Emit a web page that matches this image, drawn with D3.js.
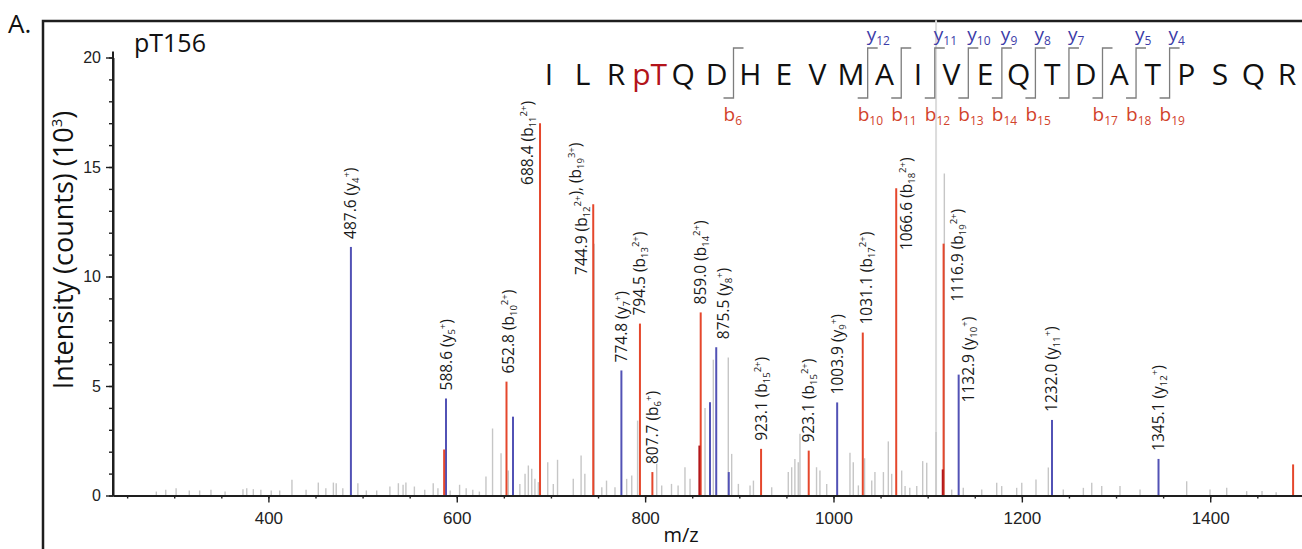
<!DOCTYPE html>
<html>
<head>
<meta charset="utf-8">
<script src="https://cdn.jsdelivr.net/npm/d3@7"></script>
<style>
  body { margin: 0; background: #fff; }
  svg { display: block; font-family: 'Open Sans', 'Noto Sans', sans-serif; }
</style>
</head>
<body>
<svg id="chart" width="1302" height="549"></svg>
<script>
// peptide sequence and fragment sites (cut = number of residues before the bracket)
const residues = ['I','L','R','pT','Q','D','H','E','V','M','A','I','V','E','Q','T','D','A','T','P','S','Q','R'];
const cutSites = [6, 10, 11, 12, 13, 14, 15, 16, 17, 18, 19];
const bCuts = [6, 10, 11, 12, 13, 14, 15, 17, 18, 19];
const yCuts = [10, 12, 13, 14, 15, 16, 18, 19];
const yNumbers = [12, 11, 10, 9, 8, 7, 5, 4];

// labelled b ions (red)
const bPeakMz = [652.8, 688.4, 744.9, 794.5, 807.7, 859.0, 923.1, 973.7, 1031.1, 1066.6, 1116.9];
const bPeakIntensity = [5.2, 17.0, 13.3, 7.85, 1.07, 8.36, 2.13, 2.05, 7.44, 14.03, 11.5];
const bPeakLabels = ['652.8|b,10,2+', '688.4|b,11,2+', '744.9|b,12,2+|b,19,3+', '794.5|b,13,2+',
  '807.7|b,6,+', '859.0|b,14,2+', '923.1|b,15,2+', '923.1|b,15,2+', '1031.1|b,17,2+',
  '1066.6|b,18,2+', '1116.9|b,19,2+'];

// labelled y ions (blue)
const yPeakMz = [487.6, 588.6, 774.8, 875.5, 1003.9, 1132.9, 1232.0, 1345.1];
const yPeakIntensity = [11.35, 4.43, 5.71, 6.77, 4.25, 5.52, 3.45, 1.67];
const yPeakLabels = ['487.6|y,4,+', '588.6|y,5,+', '774.8|y,7,+', '875.5|y,8,+', '1003.9|y,9,+',
  '1132.9|y,10,+', '1232.0|y,11,+', '1345.1|y,12,+'];

// unlabelled coloured lines
const otherBlueMz = [659.7, 868.9, 888.8];
const otherBlueIntensity = [3.6, 4.26, 1.07];
const otherRedMz = [586.6, 1488];
const otherRedIntensity = [2.1, 1.42];
const overlapMz = [857.6, 1116.0];
const overlapIntensity = [2.28, 1.19];
const precursorMz = [1108.9];
const precursorIntensity = [21.7];

// unassigned peaks (grey)
const noiseMz = [281, 291, 302, 316, 327, 339, 354, 373, 377, 384, 392, 403, 412, 425, 440, 453, 461, 469, 472,
  479, 495, 504, 515, 529, 538, 543, 546, 555, 566, 575, 580, 593, 603, 610, 617, 624, 631, 638, 647,
  654.7, 667, 672.5, 676, 679.6, 683, 686.6, 696.6, 702.5, 707, 723.7, 732, 736, 745.8, 754, 759, 768,
  780.4, 785.8, 792, 812.3, 817.6, 828, 835, 842.3, 847.7, 863.6, 872.4, 888.3, 891.9, 899, 911.4, 915,
  934.4, 952, 955.6, 959, 962.6, 964.4, 982, 985.6, 992.8, 1017.5, 1021, 1026.4, 1033, 1040.6, 1044,
  1053, 1058.2, 1061.8, 1072.4, 1076, 1081, 1088.4, 1094.7, 1099, 1108.9, 1117.7, 1125.5, 1137.8,
  1157.4, 1173.3, 1178.6, 1194.5, 1199.9, 1215, 1228.1, 1244, 1265.3, 1274.2, 1284.8, 1304.2, 1325.5,
  1375, 1399.8, 1417.5, 1438.7, 1455, 1470];
const noiseIntensity = [0.18, 0.26, 0.33, 0.23, 0.23, 0.26, 0.18, 0.29, 0.33, 0.29, 0.26, 0.23, 0.23, 0.72, 0.26,
  0.59, 0.33, 0.59, 0.56, 0.33, 0.56, 0.23, 0.23, 0.41, 0.56, 0.49, 0.59, 0.41, 0.26, 0.56, 0.33, 0.23,
  0.49, 0.33, 0.26, 0.18, 0.87, 3.06, 1.93,
  1.14, 0.53, 0.99, 1.37, 1.22, 0.76, 0.61, 1.52, 0.53, 1.63, 0.76, 1.83, 0.99, 11.5, 0.38, 0.68, 0.38,
  0.76, 0.91, 3.42, 1.45, 0.46, 0.53, 0.46, 1.29, 0.76, 4.0, 6.2, 6.3, 1.9, 0.53, 0.46, 0.68,
  0.38, 1.07, 1.29, 1.67, 1.52, 2.82, 1.29, 1.14, 0.53, 1.95, 1.52, 0.46, 1.7, 0.68, 1.07,
  1.07, 2.47, 0.99, 1.14, 0.43, 0.35, 0.43, 1.57, 1.49, 2.9, 14.7, 0.27, 0.35,
  0.27, 0.58, 0.43, 0.35, 0.58, 0.73, 1.28, 0.27, 0.35, 0.58, 0.43, 0.43, 0.27,
  0.65, 0.27, 0.35, 0.2, 0.2, 0.15];

const xTicks = [400, 600, 800, 1000, 1200, 1400];
const yTicks = [0, 5, 10, 15, 20];

// label nudges: dx in px, "at" = intensity where a label starts when it is not right above its peak
const labelLayout = {
  652.8: {dx: 2}, 688.4: {dx: -13, at: 14.18}, 744.9: {dx: -12, at: 10.07}, 875.5: {dx: 7},
  1031.1: {dx: 4}, 1066.6: {dx: 10, at: 11.2}, 1116.9: {dx: 14, at: 8.85}, 1132.9: {dx: 10, at: 4.25}
};

const RED = '#e5472c', BLUE = '#5252b5', DARKRED = '#b3171b', GREY = '#c6c6c6';

const svg = d3.select('#chart');
const x = d3.scaleLinear().domain([235, 1500]).range([113, 1304.4]);
const y = d3.scaleLinear().domain([0, 20]).range([495.5, 57.5]);

// figure frame
svg.append('path')
  .attr('d', 'M43,549V21H1302')
  .attr('fill', 'none')
  .attr('stroke', '#1e1e1e')
  .attr('stroke-width', 2.5);
svg.append('text').attr('x', 8).attr('y', 33).text('A.')
  .attr('font-size', 26).attr('fill', '#111');
svg.append('text').attr('x', 134).attr('y', 52).text('pT156')
  .attr('font-size', 25).attr('fill', '#111');

// peaks
const drawPeaks = (mz, inten, color, width) => {
  svg.append('g').selectAll('line')
    .data(mz.map((m, i) => ({m, v: inten[i]})))
    .enter().append('line')
    .attr('x1', d => x(d.m)).attr('x2', d => x(d.m))
    .attr('y1', y(0)).attr('y2', d => y(d.v))
    .attr('stroke', color)
    .attr('stroke-width', width);
};
drawPeaks(precursorMz, precursorIntensity, '#dcdcdc', 2);
drawPeaks(noiseMz, noiseIntensity, GREY, 1.4);
drawPeaks(yPeakMz, yPeakIntensity, BLUE, 2);
drawPeaks(otherBlueMz, otherBlueIntensity, BLUE, 2);
drawPeaks(bPeakMz, bPeakIntensity, RED, 2);
drawPeaks(otherRedMz, otherRedIntensity, RED, 2);
drawPeaks(overlapMz, overlapIntensity, DARKRED, 2);

// axes
const xAxisMinor = svg.append('g').attr('transform', `translate(0,${y(0)})`)
  .call(d3.axisBottom(x).tickValues(d3.range(250, 1500, 50)).tickSize(3).tickSizeOuter(0).tickFormat(''));
const xAxis = svg.append('g').attr('transform', `translate(0,${y(0)})`)
  .call(d3.axisBottom(x).tickValues(xTicks).tickSize(7).tickSizeOuter(0).tickPadding(9).tickFormat(d3.format('d')));
const yAxisMinor = svg.append('g').attr('transform', `translate(${x(235)},0)`)
  .call(d3.axisLeft(y).tickValues(d3.range(0, 21)).tickSize(4).tickSizeOuter(0).tickFormat(''));
const yAxis = svg.append('g').attr('transform', `translate(${x(235)},0)`)
  .call(d3.axisLeft(y).tickValues(yTicks).tickSize(7).tickSizeOuter(0).tickPadding(5));
[xAxisMinor, xAxis, yAxisMinor, yAxis].forEach(g => {
  g.select('.domain').attr('stroke', '#1e1e1e').attr('stroke-width', 2);
  g.selectAll('.tick line').attr('stroke', '#1e1e1e').attr('stroke-width', 1.4);
  g.selectAll('.tick text').attr('fill', '#222').attr('font-family', null);
});
xAxis.selectAll('.tick text').attr('font-size', 17);
yAxis.selectAll('.tick text').attr('font-size', 16);
yAxis.select('.domain').attr('d', `M0,${y(20) - 6}V${y(0)}`);

svg.append('text')
  .attr('transform', 'translate(73,250) rotate(-90)')
  .attr('text-anchor', 'middle')
  .attr('font-size', 27).attr('fill', '#111')
  .call(t => {
    t.append('tspan').text('Intensity (counts) (10');
    t.append('tspan').text('3').attr('font-size', 15).attr('dy', -11);
    t.append('tspan').text(')').attr('dy', 11);
  });
svg.append('text').attr('x', 681).attr('y', 542).attr('text-anchor', 'middle')
  .attr('font-size', 20).attr('fill', '#111').text('m/z');

// rotated peak labels
const peakLabel = (mz, inten, labels) => {
  mz.forEach((m, i) => {
    const lay = labelLayout[m] || {};
    const parts = labels[i].split('|');
    const y0 = lay.at != null ? y(lay.at) : y(inten[i]) - 8;
    const t = svg.append('text')
      .attr('transform', `translate(${x(m) + (lay.dx || 0) + 5.5},${y0}) rotate(-90)`)
      .attr('font-size', 15.5).attr('fill', '#1a1a1a');
    t.append('tspan').text(parts[0] + ' (');
    parts.slice(1).forEach((p, k) => {
      const [ion, n, z] = p.split(',');
      if (k > 0) t.append('tspan').text('), (');
      t.append('tspan').text(ion);
      t.append('tspan').text(n).attr('font-size', 9.5).attr('dy', 3);
      t.append('tspan').text(z).attr('font-size', 9.5).attr('dy', -9);
      t.append('tspan').text(k === parts.length - 2 ? ')' : '').attr('dy', 6);
    });
  });
};
peakLabel(yPeakMz, yPeakIntensity, yPeakLabels);
peakLabel(bPeakMz, bPeakIntensity, bPeakLabels);

// sequence with fragment brackets
const seqX = d3.scalePoint().domain(d3.range(residues.length)).range([549, 1287]);
const cutX = c => (seqX(c - 1) + seqX(c)) / 2;
svg.append('g').selectAll('text')
  .data(residues)
  .enter().append('text')
  .attr('x', (d, i) => seqX(i))
  .attr('y', 85)
  .attr('text-anchor', 'middle')
  .attr('font-size', 30)
  .attr('fill', d => d === 'pT' ? '#b3141b' : '#111')
  .text(d => d);
svg.append('g').selectAll('path')
  .data(cutSites)
  .enter().append('path')
  .attr('d', c => `M${cutX(c) - 10},98H${cutX(c)}V48H${cutX(c) + 10}`)
  .attr('fill', 'none')
  .attr('stroke', '#7d7d7d')
  .attr('stroke-width', 1.3);
bCuts.forEach(c => {
  const t = svg.append('text').attr('x', cutX(c) - 10).attr('y', 121)
    .attr('font-size', 19).attr('fill', '#d2432b');
  t.append('tspan').text('b');
  t.append('tspan').text(c).attr('font-size', 12).attr('dy', 4);
});
yCuts.forEach((c, i) => {
  const t = svg.append('text').attr('x', cutX(c) - 1).attr('y', 41)
    .attr('font-size', 19).attr('fill', '#3c3ca8');
  t.append('tspan').text('y');
  t.append('tspan').text(yNumbers[i]).attr('font-size', 12).attr('dy', 4);
});
</script>
</body>
</html>
